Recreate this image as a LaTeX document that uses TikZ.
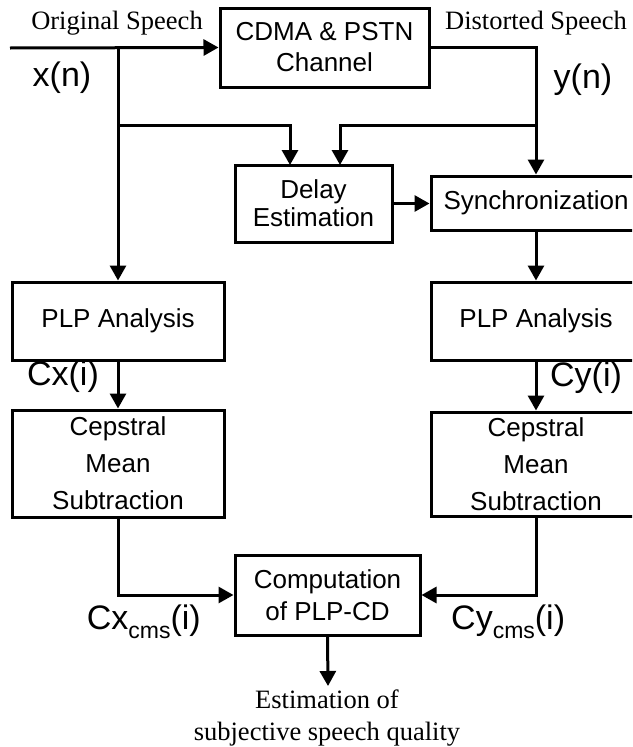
\documentclass[tikz,border=0pt]{standalone}
\usepackage{fontspec}
\setmainfont{Liberation Serif}
\setsansfont{Liberation Sans}
\usetikzlibrary{arrows.meta}
\begin{document}
\begin{tikzpicture}[x=1pt,y=-1pt,
  box/.style={draw,line width=3pt,align=center,inner sep=0pt,
    font=\sffamily\fontsize{26}{31}\selectfont},
  conn/.style={line width=3pt},
  arr/.style={conn,-{Triangle[length=15pt,width=16pt]}},
  serif/.style={font=\rmfamily\fontsize{26.5}{32}\selectfont,align=center,inner sep=0pt},
  lbl/.style={font=\sffamily\fontsize{34}{36}\selectfont,inner sep=0pt}]
\clip (0,0) rectangle (632,747);
\fill[white] (0,0) rectangle (632,747);
% boxes
\node[box,minimum width=209pt,minimum height=79pt] (chan) at (324.5,47.5) {CDMA \& PSTN\\Channel};
\node[box,minimum width=157pt,minimum height=77pt,font=\sffamily\fontsize{26}{28}\selectfont] (delay) at (313.5,203.5) {Delay\\Estimation};
\node[box,minimum width=210pt,minimum height=54pt] (sync) at (536,203) {Synchronization};
\node[box,minimum width=212pt,minimum height=78pt] (plpL) at (118,321) {PLP Analysis};
\node[box,minimum width=210pt,minimum height=78pt] (plpR) at (536,321) {PLP Analysis};
\node[box,minimum width=212pt,minimum height=107pt,font=\sffamily\fontsize{26}{37}\selectfont] (cmsL) at (118,463.5) {Cepstral\\Mean\\Subtraction};
\node[box,minimum width=210pt,minimum height=104pt,font=\sffamily\fontsize{26}{37}\selectfont] (cmsR) at (536,464) {Cepstral\\Mean\\Subtraction};
\node[box,minimum width=185pt,minimum height=80pt,font=\sffamily\fontsize{26}{32}\selectfont] (comp) at (327.5,595) {Computation\\of PLP-CD};
% coordinates
\coordinate (in) at (10,48);
\coordinate (xb) at (118,48);
\coordinate (xt) at (118,125);
\coordinate (dl) at (290,165);
\coordinate (yt) at (536,125);
\coordinate (dr) at (340,165);
\coordinate (out) at (328,686);
% connectors
\draw[arr] (in) -- (chan.west);
\draw[arr] (xb) -- (plpL.north);
\draw[arr] (xt) -| (dl);
\draw[arr] (chan.east) -| (sync.north);
\draw[arr] (yt) -| (dr);
\draw[arr] (delay.east) -- (delay.east -| sync.west);
\draw[arr] (sync.south) -- (plpR.north);
\draw[arr] (plpL.south) -- (cmsL.north);
\draw[arr] (plpR.south) -- (cmsR.north);
\draw[arr] (cmsL.south) |- (comp.west);
\draw[arr] (cmsR.south) |- (comp.east);
\draw[arr] (comp.south) -- (out);
% labels
\node[serif] (orig) at (117,23) {Original Speech};
\node[serif] (dist) at (536,23) {Distorted Speech};
\node[lbl] (xn) at (62,78) {x(n)};
\node[lbl] (yn) at (583,80) {y(n)};
\node[lbl] (cxi) at (63,377) {Cx(i)};
\node[lbl] (cyi) at (586,378) {Cy(i)};
\node[lbl,anchor=east] (cxc) at (201,622) {Cx\raisebox{-9pt}{\fontsize{23}{23}\selectfont cms}(i)};
\node[lbl,anchor=west] (cyc) at (451,622) {Cy\raisebox{-9pt}{\fontsize{23}{23}\selectfont cms}(i)};
\node[serif,anchor=north] (est) at (327,690) {Estimation of\\subjective speech quality};
\end{tikzpicture}
\end{document}
